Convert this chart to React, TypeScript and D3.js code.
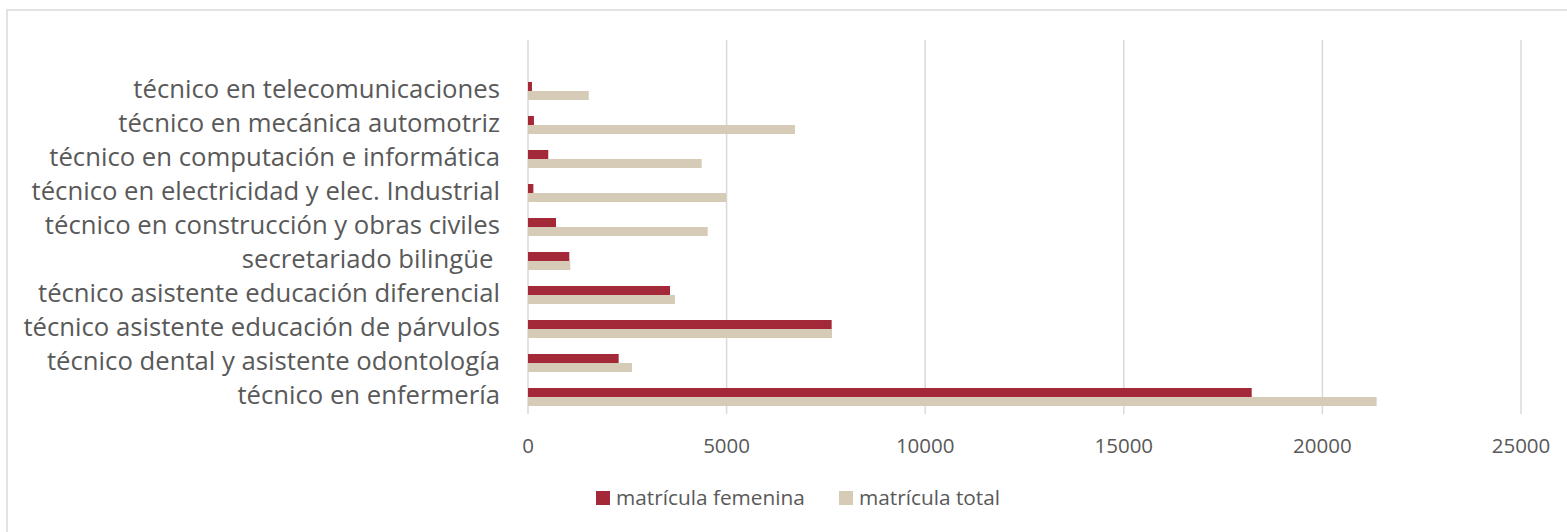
import React from "react";
import * as d3 from "d3";

const categories = [
  "técnico en telecomunicaciones",
  "técnico en mecánica automotriz",
  "técnico en computación e informática",
  "técnico en electricidad y elec. Industrial",
  "técnico en construcción y obras civiles",
  "secretariado bilingüe ",
  "técnico asistente educación diferencial",
  "técnico asistente educación de párvulos",
  "técnico dental y asistente odontología",
  "técnico en enfermería",
];
const femenina = [100, 150, 510, 135, 705, 1040, 3575, 7645, 2283, 18220];
const total = [1530, 6720, 4373, 4990, 4524, 1065, 3700, 7653, 2618, 21365];
const ticks = [0, 5000, 10000, 15000, 20000, 25000];
const seriesNames = ["matrícula femenina", "matrícula total"];
const colors = ["#A32938", "#D5CBB6"];

const W = 1567;
const H = 532;
const FONT = "'Open Sans', Lato, sans-serif";

export default function App() {
  const x = d3.scaleLinear().domain([0, 25000]).range([528, 1521]);
  const y = d3
    .scaleBand<string>()
    .domain(categories)
    .range([74, 414])
    .paddingInner(0.47)
    .paddingOuter(0.235);
  const bw = y.bandwidth() / 2;
  const gridTop = 40;
  const gridBottom = 414;

  return (
    <svg
      width={W}
      height={H}
      style={{ position: "absolute", left: 0, top: 0, background: "#fff" }}
      fontFamily={FONT}
    >
      <rect x={7} y={10} width={1700} height={700} fill="#fff" stroke="#D9D9D9" strokeWidth={1.5} />
      {ticks.map((t) => (
        <g key={t}>
          <line x1={x(t)} x2={x(t)} y1={gridTop} y2={gridBottom} stroke="#D9D9D9" strokeWidth={1.5} />
          <text x={x(t)} y={452.5} textAnchor="middle" fontSize={20.5} fill="#595959">
            {t}
          </text>
        </g>
      ))}
      {categories.map((c, i) => {
        const y0 = y(c)!;
        return (
          <g key={c}>
            <rect x={x(0)} y={y0} width={x(femenina[i]) - x(0)} height={bw} fill={colors[0]} />
            <rect x={x(0)} y={y0 + bw} width={x(total[i]) - x(0)} height={bw} fill={colors[1]} />
            <text
              x={500}
              y={y0 + bw}
              dy="0.27em"
              textAnchor="end"
              fontSize={25.7}
              fill="#595959"
              style={{ whiteSpace: "pre" }}
            >
              {c}
            </text>
          </g>
        );
      })}
      {seriesNames.map((s, i) => {
        const lx = [596, 839][i];
        return (
          <g key={s}>
            <rect x={lx} y={491} width={14} height={14} fill={colors[i]} />
            <text x={lx + 20} y={505} fontSize={20.8} fill="#595959">
              {s}
            </text>
          </g>
        );
      })}
    </svg>
  );
}
